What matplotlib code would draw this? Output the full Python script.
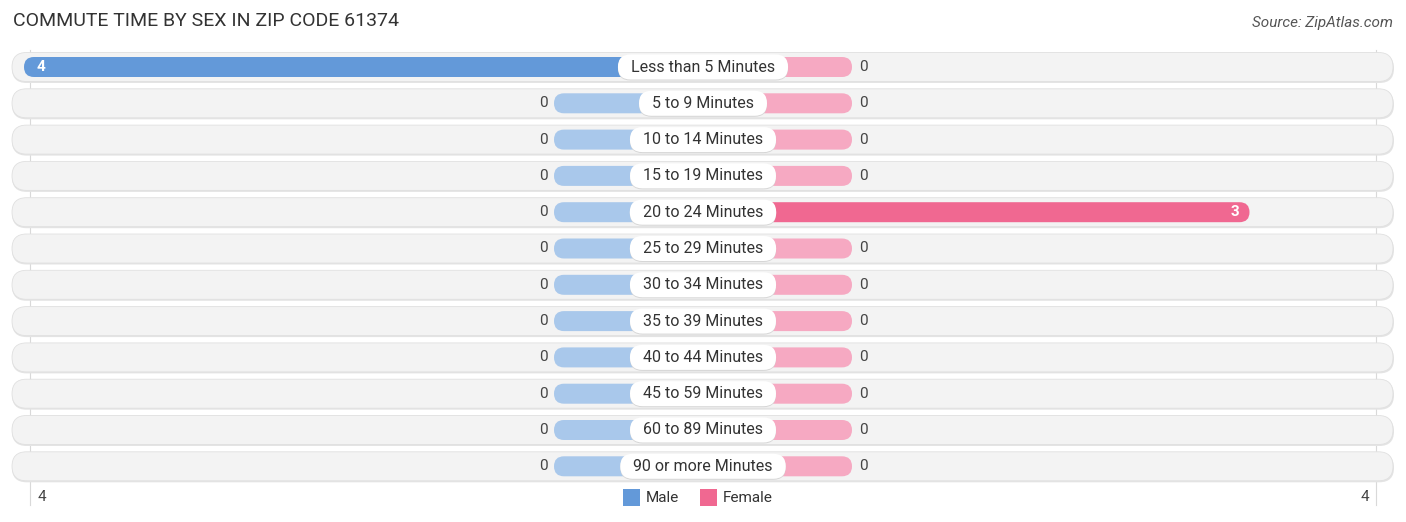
import matplotlib.pyplot as plt
from matplotlib.patches import FancyBboxPatch, Rectangle

plt.rcParams['font.family'] = ['Roboto', 'DejaVu Sans']

categories = [
    'Less than 5 Minutes', '5 to 9 Minutes', '10 to 14 Minutes',
    '15 to 19 Minutes', '20 to 24 Minutes', '25 to 29 Minutes',
    '30 to 34 Minutes', '35 to 39 Minutes', '40 to 44 Minutes',
    '45 to 59 Minutes', '60 to 89 Minutes', '90 or more Minutes',
]
male = [4, 0, 0, 0, 0, 0, 0, 0, 0, 0, 0, 0]
female = [0, 0, 0, 0, 3, 0, 0, 0, 0, 0, 0, 0]
axis_max = 4

MALE_DARK, MALE_LIGHT = '#6399d9', '#a9c8eb'
FEM_DARK, FEM_LIGHT = '#f06891', '#f6a9c2'

W, H = 1406, 522
fig = plt.figure(figsize=(W / 100, H / 100), dpi=100)
ax = fig.add_axes([0, 0, 1, 1])
ax.set_xlim(0, W)
ax.set_ylim(H, 0)
ax.axis('off')
renderer = fig.canvas.get_renderer()

# layout in pixels
center = 703
stub = 149          # zero-length bar still shows this much
unit = 132.5        # pixels per count
y0, gap = 67, 36.3
bg_h, bar_h, lab_h = 29, 20, 25
axis_half = 673


def pill(x0, x1, yc, h, fc, ec='none', z=2, lw=0):
    p = FancyBboxPatch((min(x0, x1), yc - h / 2), abs(x1 - x0), h,
                       boxstyle=f'round,pad=0,rounding_size={h / 2}',
                       fc=fc, ec=ec, lw=lw, zorder=z)
    ax.add_patch(p)


# faint vertical axis lines
for s in (-1, 1):
    ax.plot([center + s * axis_half] * 2, [50, 505], color='#d9d9d9', lw=0.8, zorder=0.5)

for i, (cat, m, f) in enumerate(zip(categories, male, female)):
    y = y0 + i * gap
    # row background with soft shadow
    pill(12, 1394, y + 1.5, bg_h, '#e4e4e4', z=1)
    pill(12, 1393, y, bg_h, '#f3f3f3', ec='#e0e0e0', lw=0.6, z=1.1)

    mx = center - (stub + m * unit)
    fx = center + (stub + f * unit)
    pill(mx, center, y, bar_h, MALE_DARK if m > 0 else MALE_LIGHT, z=2)
    pill(center, fx, y, bar_h, FEM_DARK if f > 0 else FEM_LIGHT, z=2)

    if m > 0:
        ax.text(mx + 13, y, str(m), color='white', fontsize=11, fontweight='bold',
                ha='left', va='center', zorder=5)
    else:
        ax.text(mx - 6, y, str(m), color='#444444', fontsize=11,
                ha='right', va='center', zorder=5)
    if f > 0:
        ax.text(fx - 10, y, str(f), color='white', fontsize=11, fontweight='bold',
                ha='right', va='center', zorder=5)
    else:
        ax.text(fx + 7, y, str(f), color='#444444', fontsize=11,
                ha='left', va='center', zorder=5)

    t = ax.text(center, y, cat, color='#333333', fontsize=11.5, ha='center',
                va='center', zorder=7)
    tw = t.get_window_extent(renderer).width
    pill(center - tw / 2 - 13, center + tw / 2 + 13, y + 1, lab_h, '#d6d6d6', z=5.9)
    pill(center - tw / 2 - 13, center + tw / 2 + 13, y, lab_h, 'white', z=6)

# axis labels
ax.text(center - axis_half + 8, 497, str(axis_max), fontsize=11, color='#444444',
        ha='left', va='center')
ax.text(center + axis_half - 7, 497, str(axis_max), fontsize=11, color='#444444',
        ha='right', va='center')

# legend
ax.add_patch(Rectangle((623, 489), 17, 17, fc=MALE_DARK, ec='none'))
ax.text(646, 497.5, 'Male', fontsize=11, color='#333333', ha='left', va='center')
ax.add_patch(Rectangle((700, 489), 17, 17, fc=FEM_DARK, ec='none'))
ax.text(723, 497.5, 'Female', fontsize=11, color='#333333', ha='left', va='center')

ax.text(13, 21, 'COMMUTE TIME BY SEX IN ZIP CODE 61374', fontsize=14, color='#333333',
        ha='left', va='center')
ax.text(1393, 23, 'Source: ZipAtlas.com', fontsize=11, color='#555555', style='italic',
        ha='right', va='center')

fig.savefig('out.png', dpi=100)
